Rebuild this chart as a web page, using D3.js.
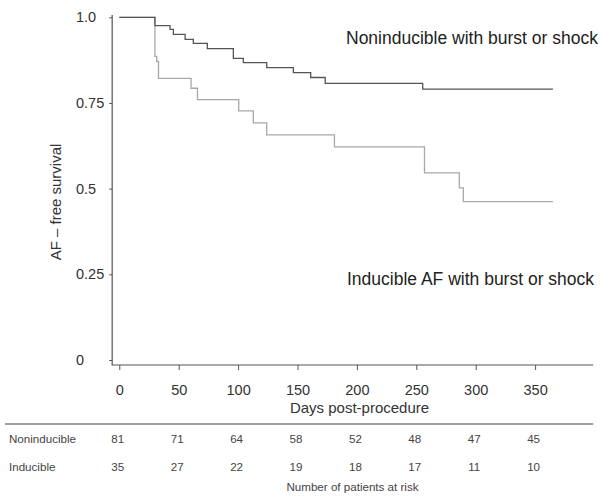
<!DOCTYPE html>
<html>
<head>
<meta charset="utf-8">
<script src="https://cdn.jsdelivr.net/npm/d3@7"></script>
<style>
  body { margin: 0; background: #fff; }
  svg { font-family: "Liberation Sans", Arial, sans-serif; }
</style>
</head>
<body>
<script>
// Kaplan-Meier steps (day, survival after the drop)
var nonindTimes = [0, 30, 42.7, 45.5, 55.4, 62.3, 74.1, 96, 104.4, 124.1, 146.5, 161.1, 173.3, 255.4, 365];
var nonindSurv  = [1, 0.9755, 0.965, 0.9504, 0.9358, 0.9241, 0.9086, 0.8804, 0.8675, 0.8529, 0.8383, 0.8243, 0.8074, 0.7902, 0.7902];

var indTimes = [0, 30, 31.5, 33, 60.4, 65.8, 100.5, 112.8, 124.1, 181.1, 256.9, 286.2, 289.6, 365];
var indSurv  = [1, 0.886, 0.871, 0.822, 0.793, 0.760, 0.727, 0.692, 0.657, 0.622, 0.546, 0.502, 0.462, 0.462];

// numbers at risk
var riskTimes = [0, 50, 100, 150, 200, 250, 300, 350];
var nonindRisk = [81, 71, 64, 58, 52, 48, 47, 45];
var indRisk = [35, 27, 22, 19, 18, 17, 11, 10];

var yTicks = [0, 0.25, 0.5, 0.75, 1];
var yTickLabels = ["0", "0.25", "0.5", "0.75", "1.0"];

var svgWidth = 602;
var svgHeight = 501;

var svg = d3.select("body")
  .append("svg")
  .attr("width", svgWidth)
  .attr("height", svgHeight);

// scales
var xScale = d3.scaleLinear()
  .domain([0, 350])
  .range([119.3, 535.1]);

var yScale = d3.scaleLinear()
  .domain([0, 1])
  .range([360, 17.3]);

// L shaped frame
var xLeft = xScale(-6), xRight = xScale(399);
var yTop = yScale(1.007), yBottom = yScale(-0.0146);

svg.append("path")
  .attr("d", `M${xLeft},${yTop}V${yBottom}H${xRight}`)
  .attr("fill", "none")
  .attr("stroke", "#555")
  .attr("stroke-width", 1.2);

// y axis
var leftAxis = d3.axisLeft(yScale)
  .tickValues(yTicks)
  .tickFormat((d, i) => yTickLabels[i])
  .tickSizeOuter(0)
  .tickSize(3);

var yAxisG = svg.append("g")
  .attr("transform", `translate(${xLeft}, 0)`)
  .call(leftAxis);
yAxisG.select(".domain").remove();
yAxisG.selectAll("line").attr("stroke", "#555");
yAxisG.selectAll("text")
  .attr("x", 76 - xLeft)
  .attr("dy", "0.32em")
  .style("text-anchor", "start")
  .style("font-size", "14.5px")
  .style("font-family", "Liberation Sans, Arial, sans-serif")
  .attr("fill", "#333");

// x axis
var bottomAxis = d3.axisBottom(xScale)
  .tickValues(riskTimes)
  .tickSizeOuter(0)
  .tickSize(5);

var xAxisG = svg.append("g")
  .attr("transform", `translate(0, ${yBottom})`)
  .call(bottomAxis);
xAxisG.select(".domain").remove();
xAxisG.selectAll("line").attr("stroke", "#555");
xAxisG.selectAll("text")
  .attr("y", 395 - yBottom)
  .attr("dy", 0)
  .style("font-size", "14.5px")
  .style("font-family", "Liberation Sans, Arial, sans-serif")
  .attr("fill", "#333");

// axis titles
svg.append("text")
  .attr("x", 359.5)
  .attr("y", 412.5)
  .attr("text-anchor", "middle")
  .style("font-size", "15px")
  .attr("fill", "#333")
  .text("Days post-procedure");

svg.append("text")
  .attr("transform", "translate(61, 202) rotate(-90)")
  .attr("text-anchor", "middle")
  .style("font-size", "15px")
  .attr("fill", "#333")
  .text("AF \u2013 free survival");

// survival curves
var stepLine = d3.line()
  .x(d => xScale(d[0]))
  .y(d => yScale(d[1]))
  .curve(d3.curveStepAfter);

svg.append("path")
  .datum(indTimes.map((t, i) => [t, indSurv[i]]))
  .attr("d", stepLine)
  .attr("fill", "none")
  .attr("stroke", "#a8a8a8")
  .attr("stroke-width", 1.3);

svg.append("path")
  .datum(nonindTimes.map((t, i) => [t, nonindSurv[i]]))
  .attr("d", stepLine)
  .attr("fill", "none")
  .attr("stroke", "#555")
  .attr("stroke-width", 1.3);

// curve labels
svg.append("text")
  .attr("x", 346)
  .attr("y", 43.5)
  .style("font-size", "17.5px")
  .attr("fill", "#222")
  .text("Noninducible with burst or shock");

svg.append("text")
  .attr("x", 347)
  .attr("y", 285)
  .style("font-size", "17.5px")
  .attr("fill", "#222")
  .text("Inducible AF with burst or shock");

// risk table
svg.append("line")
  .attr("x1", 5)
  .attr("x2", xRight)
  .attr("y1", 424)
  .attr("y2", 424)
  .attr("stroke", "#444")
  .attr("stroke-width", 1.2);

var rows = [
  { name: "Noninducible", values: nonindRisk, y: 442.5 },
  { name: "Inducible", values: indRisk, y: 470.5 }
];

rows.forEach(function(row) {
  svg.append("text")
    .attr("x", 9)
    .attr("y", row.y)
    .style("font-size", "11.6px")
    .attr("fill", "#444")
    .text(row.name);

  svg.selectAll(null)
    .data(row.values)
    .enter()
    .append("text")
    .attr("x", (d, i) => xScale(riskTimes[i]) - 1.5)
    .attr("y", row.y)
    .attr("text-anchor", "middle")
    .style("font-size", "11.6px")
    .attr("fill", "#444")
    .text(d => d);
});

svg.append("text")
  .attr("x", 352.5)
  .attr("y", 490.7)
  .attr("text-anchor", "middle")
  .style("font-size", "11.6px")
  .attr("fill", "#444")
  .text("Number of patients at risk");
</script>
</body>
</html>
